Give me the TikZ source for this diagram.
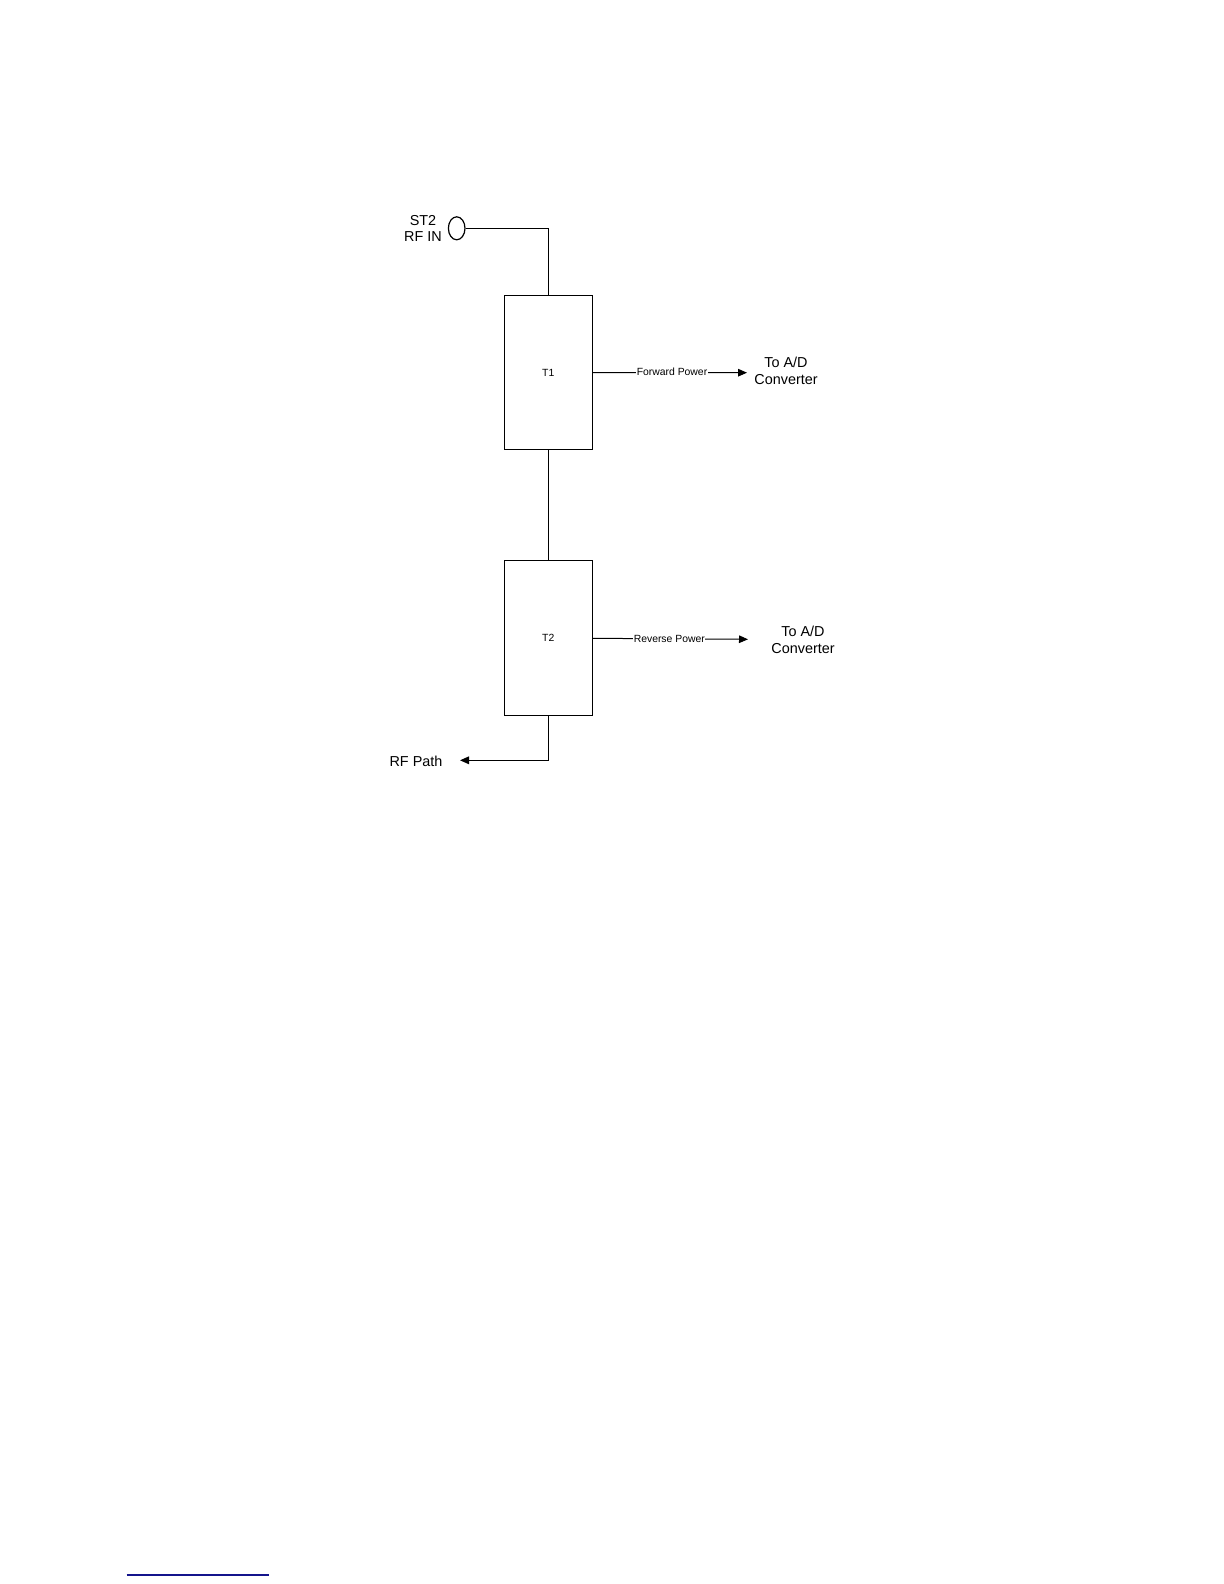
\documentclass[tikz,border=0pt]{standalone}
\usepackage{fontspec}
\setmainfont{Liberation Sans}
\usetikzlibrary{shapes.geometric,arrows.meta}
\begin{document}
\begin{tikzpicture}[x=0.5pt,y=-0.5pt,
  box/.style={draw,line width=0.5pt,minimum width=44pt,minimum height=77.4pt,inner sep=0pt,font=\fontsize{5.2}{6}\selectfont},
  wire/.style={line width=0.7pt},
  sig/.style={line width=0.5pt,-{Triangle[length=4.5pt,width=3.8pt]}},
  biglbl/.style={align=center,inner sep=0pt,font=\fontsize{7.2}{8.6}\selectfont},
  smalllbl/.style={fill=white,inner sep=0.3pt,font=\fontsize{5.2}{6}\selectfont}]
\path[use as bounding box] (0,0) rectangle (1224,1584);
\node[draw,ellipse,line width=0.6pt,minimum width=8.3pt,minimum height=11.5pt,inner sep=0pt] (circ) at (456.7,228.3) {};
\node[biglbl,font=\fontsize{7.2}{7.7}\selectfont] (inlbl) at (423,228.5) {ST2\\RF IN};
\node[box] (T1) at (548.3,372.5) {T1};
\node[box] (T2) at (548.3,638.3) {T2};
\coordinate (fwdTip) at (747,372.7);
\coordinate (revTip) at (748,639.3);
\coordinate (rfTip) at (460,760.3);
\draw[wire] (circ.east) -| (T1.north);
\draw[wire] (T1.south) -- (T2.north);
\draw[sig] (T1.east) -- (fwdTip);
\draw[sig] (T2.east) -- (revTip);
\draw[wire,-{Triangle[length=4.5pt,width=3.8pt]}] (T2.south) |- (rfTip);
\node[smalllbl] (fwdlbl) at (672,372.2) {Forward Power};
\node[smalllbl] (revlbl) at (669.3,638.8) {Reverse Power};
\node[biglbl] (ad1) at (786,370.5) {To A/D\\Converter};
\node[biglbl] (ad2) at (803,639.5) {To A/D\\Converter};
\node[biglbl,anchor=center] (rfpath) at (416,761.5) {RF Path};
\coordinate (ulA) at (126.7,1575);
\coordinate (ulB) at (269,1575);
\draw[line width=0.8pt,color={rgb,255:red,20;green,20;blue,140}] (ulA) -- (ulB);
\end{tikzpicture}
\end{document}
